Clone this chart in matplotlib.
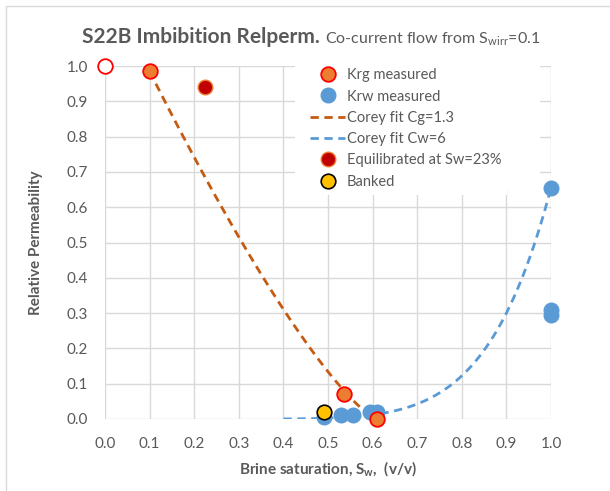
import matplotlib.pyplot as plt
from matplotlib.patches import Rectangle
import numpy as np

plt.rcParams['font.family'] = ['Lato', 'DejaVu Sans']

GREY = '#595959'

# measured points
krg_sw = [0.10, 0.535, 0.61]
krg_val = [0.985, 0.07, 0.0]
krw_sw = [0.49, 0.53, 0.555, 0.595, 0.61, 1.0, 1.0, 1.0]
krw_val = [0.005, 0.01, 0.01, 0.02, 0.02, 0.655, 0.31, 0.295]
start_sw = [0.0]
start_val = [1.0]
equil_sw = [0.225]
equil_val = [0.94]
banked_sw = [0.49]
banked_val = [0.02]

# Corey parameters
swi = 0.1
sw_gas_end = 0.61
krg_max = 0.985
cg = 1.3
swc_w = 0.18
krw_max = 0.655
cw = 6

sw_g = np.linspace(swi, sw_gas_end, 80)
krg_fit = krg_max * ((sw_gas_end - sw_g) / (sw_gas_end - swi)) ** cg
sw_w = np.linspace(0.4, 1.0, 80)
krw_fit = krw_max * ((sw_w - swc_w) / (1 - swc_w)) ** cw

fig = plt.figure(figsize=(6.1, 4.91), dpi=100)
ax = fig.add_axes((105/610, 1 - 419/491, 446/610, 353/491))

ax.plot(sw_g, krg_fit, ls=(0, (3, 2)), color='#C55A11', lw=2, label='Corey fit Cg=1.3', zorder=3)
ax.plot(sw_w, krw_fit, ls=(0, (3, 2)), color='#5B9BD5', lw=2, label='Corey fit Cw=6', zorder=3)

ms = 10.5
ax.plot(krw_sw, krw_val, 'o', ms=ms, color='#5B9BD5', mec='#5B9BD5', label='Krw measured', clip_on=False, zorder=4)
ax.plot(krg_sw, krg_val, 'o', ms=ms, mfc='#ED7D31', mec='#FF0000', mew=1.3, label='Krg measured', clip_on=False, zorder=5)
ax.plot(start_sw, start_val, 'o', ms=ms, mfc='white', mec='#FF0000', mew=1.3, clip_on=False, zorder=5)
ax.plot(equil_sw, equil_val, 'o', ms=ms, mfc='#C00000', mec='#ED7D31', mew=1.0, label='Equilibrated at Sw=23%', clip_on=False, zorder=5)
ax.plot(banked_sw, banked_val, 'o', ms=ms, mfc='#FFC000', mec='black', mew=1.2, label='Banked', clip_on=False, zorder=6)

ax.set_xlim(0, 1.0)
ax.set_ylim(0, 1.0)
ticks = np.arange(0, 1.01, 0.1)
ax.set_xticks(ticks)
ax.set_yticks(ticks)
ax.set_xticklabels([f'{t:.1f}' for t in ticks])
ax.set_yticklabels([f'{t:.1f}' for t in ticks])
ax.tick_params(length=0, labelsize=11, labelcolor=GREY)
ax.tick_params(axis='y', pad=12)
ax.tick_params(axis='x', pad=13)
for s in ax.spines.values():
    s.set_visible(False)
ax.grid(True, color='#D9D9D9', lw=1)
ax.set_axisbelow(True)

ax.set_xlabel(r'Brine saturation, S$_{\mathregular{w}}$,  (v/v)', fontsize=11, fontweight='bold', color=GREY, labelpad=6)
ax.set_ylabel('Relative Permeability', fontsize=11, fontweight='bold', color=GREY, labelpad=17)

handles, labels = ax.get_legend_handles_labels()
order = ['Krg measured', 'Krw measured', 'Corey fit Cg=1.3', 'Corey fit Cw=6',
         'Equilibrated at Sw=23%', 'Banked']
hmap = dict(zip(labels, handles))
leg = ax.legend([hmap[k] for k in order], order, loc='upper left', bbox_to_anchor=(0.447, 1.01),
                fontsize=10.5, frameon=True, facecolor='white', edgecolor='none', framealpha=1,
                fancybox=False, handlelength=2.4, handletextpad=0.1, labelspacing=0.5,
                borderpad=0.4, borderaxespad=0)
for t in leg.get_texts():
    t.set_color(GREY)
leg.set_zorder(3.5)

# blank area behind the legend, wider than the legend itself
ax.add_patch(Rectangle((0.426, 0.654), 0.55, 0.37, transform=ax.transAxes, fc='white', ec='none',
                       zorder=2.5, clip_on=False))

# two-part title: bold name followed by the smaller note
title_main = fig.text(82/610, 1 - 43/491, 'S22B Imbibition Relperm.', fontsize=15, fontweight='bold',
                      color=GREY, va='baseline')
fig.canvas.draw()
bb = title_main.get_window_extent()
fig.text(bb.x1/610 + 5/610, 1 - 43/491, r'Co-current flow from S$_{\mathregular{wirr}}$=0.1',
         fontsize=11.5, color=GREY, va='baseline')

fig.patches.append(Rectangle((6/610, -0.1), 1.2, 0.1 + 1 - 6/491, transform=fig.transFigure,
                             fill=False, ec='#D9D9D9', lw=1))

plt.savefig('out.png', dpi=100)
